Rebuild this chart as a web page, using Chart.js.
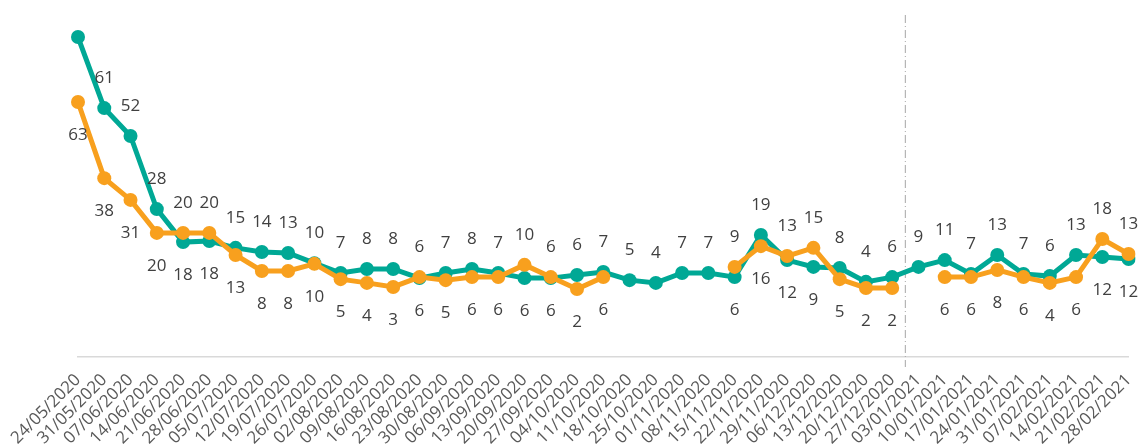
<!DOCTYPE html>
<html lang="en">
<head>
  <meta charset="UTF-8">
  <title>Weekly series</title>
  <script src="https://cdn.jsdelivr.net/npm/chart.js"></script>
  <style>
    html, body { margin: 0; padding: 0; background: #fff; }
    #wrap { width: 1148px; height: 446px; }
  </style>
</head>
<body>
<div id="wrap"><canvas id="chart"></canvas></div>

<script>
  // week labels
  const weeks = [
    '24/05/2020', '31/05/2020', '07/06/2020', '14/06/2020', '21/06/2020', '28/06/2020',
    '05/07/2020', '12/07/2020', '19/07/2020', '26/07/2020', '02/08/2020', '09/08/2020',
    '16/08/2020', '23/08/2020', '30/08/2020', '06/09/2020', '13/09/2020', '20/09/2020',
    '27/09/2020', '04/10/2020', '11/10/2020', '18/10/2020', '25/10/2020', '01/11/2020',
    '08/11/2020', '15/11/2020', '22/11/2020', '29/11/2020', '06/12/2020', '13/12/2020',
    '20/12/2020', '27/12/2020', '03/01/2021', '10/01/2021', '17/01/2021', '24/01/2021',
    '31/01/2021', '07/02/2021', '14/02/2021', '21/02/2021', '28/02/2021'
  ];

  // plotted values
  const tealValues = [
    94.1, 73.2, 65.0, 43.5, 33.8, 34.1, 32.1, 30.9, 30.6, 27.6, 24.7, 25.9,
    25.9, 23.2, 24.7, 25.9, 24.7, 23.2, 23.2, 24.1, 25.0, 22.6, 21.8, 24.7,
    24.7, 23.5, 35.9, 28.5, 26.5, 26.2, 22.1, 23.5, 26.5, 28.5, 24.4, 30.0,
    24.4, 23.8, 30.0, 29.4, 28.8
  ];
  const orangeValues = [
    75.0, 52.6, 46.2, 36.5, 36.5, 36.5, 30.0, 25.3, 25.3, 27.4, 22.9, 21.8,
    20.6, 23.5, 22.6, 23.5, 23.5, 27.1, 23.5, 20.0, 23.5, null, null, null,
    null, 26.5, 32.6, 29.7, 32.1, 22.9, 20.3, 20.3, null, 23.5, 23.5, 25.6,
    23.5, 21.8, 23.5, 34.7, 30.3
  ];

  // numbers printed next to the points
  const tealLabels = [
    null, 61, 52, 28, 18, 18, 15, 14, 13, 10, 7, 8, 8, 6, 7, 8, 7, 6, 6, 6, 7,
    5, 4, 7, 7, 6, 19, 12, 9, 8, 4, 6, 9, 11, 7, 13, 7, 6, 13, 12, 12
  ];
  const orangeLabels = [
    63, 38, 31, 20, 20, 20, 13, 8, 8, 10, 5, 4, 3, 6, 5, 6, 6, 10, 6, 2, 6,
    null, null, null, null, 9, 16, 13, 15, 5, 2, 2, null, 6, 6, 8, 6, 4, 6, 18, 13
  ];

  // year break sits between these two weeks
  const breakBetween = ['27/12/2020', '03/01/2021'];

  const TEAL = '#00A895';
  const ORANGE = '#F8A01E';

  // higher point gets its number above, lower point below
  const pointLabels = {
    id: 'pointLabels',
    afterDatasetsDraw(chart) {
      const ctx = chart.ctx;
      const teal = chart.getDatasetMeta(0).data;
      const orange = chart.getDatasetMeta(1).data;
      ctx.save();
      ctx.font = '17px "Open Sans"';
      ctx.fillStyle = '#404040';
      ctx.textAlign = 'center';
      ctx.textBaseline = 'middle';
      weeks.forEach((w, i) => {
        const hasT = tealValues[i] !== null;
        const hasO = orangeValues[i] !== null;
        const tp = teal[i], op = orange[i];
        let tAbove = true, oAbove = false;
        if (hasT && hasO) {
          tAbove = tp.y <= op.y;
          oAbove = !tAbove;
        }
        if (hasT && tealLabels[i] !== null) {
          ctx.fillText(String(tealLabels[i]), tp.x, tAbove ? tp.y - 30 : tp.y + 33);
        }
        if (hasO && orangeLabels[i] !== null) {
          ctx.fillText(String(orangeLabels[i]), op.x, oAbove ? op.y - 30 : op.y + 33);
        }
      });
      ctx.restore();
    }
  };

  const yearBreak = {
    id: 'yearBreak',
    beforeDatasetsDraw(chart) {
      const x = chart.scales.x;
      const a = weeks.indexOf(breakBetween[0]);
      const b = weeks.indexOf(breakBetween[1]);
      const px = (x.getPixelForValue(a) + x.getPixelForValue(b)) / 2;
      const ctx = chart.ctx;
      ctx.save();
      ctx.strokeStyle = '#A6A6A6';
      ctx.lineWidth = 1;
      ctx.setLineDash([8, 3, 1, 3]);
      ctx.beginPath();
      ctx.moveTo(px, chart.chartArea.top - 2);
      ctx.lineTo(px, chart.chartArea.bottom + 10);
      ctx.stroke();
      ctx.restore();
    }
  };

  new Chart(document.getElementById('chart'), {
    type: 'line',
    data: {
      labels: weeks,
      datasets: [
        {
          label: 'teal',
          data: tealValues,
          borderColor: TEAL,
          backgroundColor: TEAL,
          borderWidth: 5,
          pointRadius: 7,
          pointBorderWidth: 0,
          pointBackgroundColor: TEAL,
          tension: 0,
          order: 2
        },
        {
          label: 'orange',
          data: orangeValues,
          borderColor: ORANGE,
          backgroundColor: ORANGE,
          borderWidth: 5,
          pointRadius: 7,
          pointBorderWidth: 0,
          pointBackgroundColor: ORANGE,
          tension: 0,
          spanGaps: false,
          order: 1
        }
      ]
    },
    options: {
      responsive: true,
      maintainAspectRatio: false,
      animation: false,
      layout: { padding: { top: 17, left: 78, right: 19, bottom: 0 } },
      plugins: {
        legend: { display: false },
        tooltip: { enabled: false }
      },
      scales: {
        x: {
          offset: false,
          grid: { display: false },
          border: { display: true, color: '#D9D9D9', width: 1.5 },
          ticks: {
            autoSkip: false,
            minRotation: 45,
            maxRotation: 45,
            padding: 5,
            color: '#595959',
            font: { family: 'Open Sans', size: 17 }
          },
          afterFit(scale) { scale.height = 89; }
        },
        y: {
          display: false,
          min: 0,
          max: 100
        }
      }
    },
    plugins: [yearBreak, pointLabels]
  });
</script>
</body>
</html>
